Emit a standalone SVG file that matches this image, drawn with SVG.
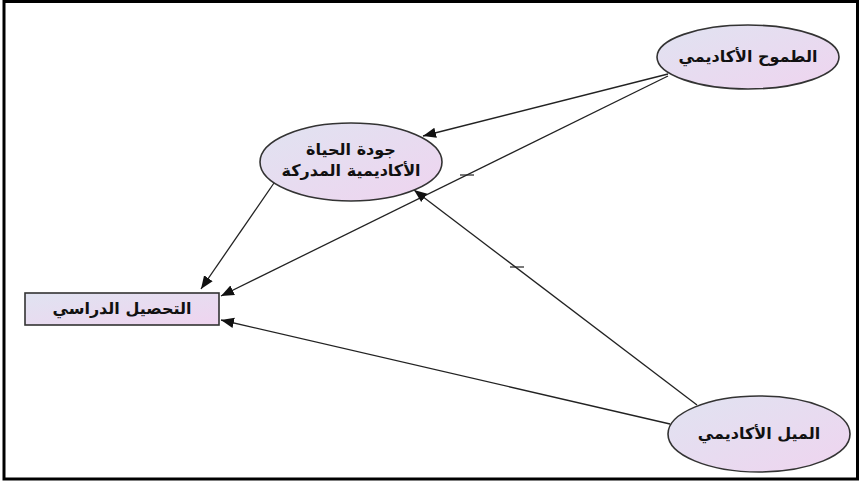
<svg xmlns="http://www.w3.org/2000/svg" width="859" height="483" viewBox="0 0 859 483">
<defs>
<linearGradient id="fill" x1="0" y1="0" x2="1" y2="1">
<stop offset="0" stop-color="#e0e3f1"/>
<stop offset="1" stop-color="#efd4ef"/>
</linearGradient>
<marker id="arr" viewBox="0 0 10 10" refX="10" refY="5" markerWidth="13" markerHeight="13" markerUnits="userSpaceOnUse" orient="auto">
<path d="M0,1 L10,5 L0,9 Z" fill="#111"/>
</marker>
<style>
.node{fill:url(#fill);stroke:#333;stroke-width:1.6}
.lbl{font-family:"DejaVu Sans",sans-serif;font-weight:bold;font-size:16px;fill:#111;text-anchor:middle;direction:rtl}
.edge{stroke:#222;stroke-width:1.3;fill:none;marker-end:url(#arr)}
.tick{stroke:#222;stroke-width:1.2}
</style>
</defs>
<rect x="4" y="1.5" width="853.5" height="477.5" fill="#fff" stroke="#000" stroke-width="3"/>
<g id="connectors">
<line class="edge" x1="668" y1="74" x2="423" y2="136"/>
<line class="edge" x1="668" y1="76" x2="221" y2="296"/>
<line class="edge" x1="274" y1="183" x2="201" y2="289"/>
<line class="edge" x1="697" y1="405" x2="414" y2="190"/>
<line class="edge" x1="670" y1="424" x2="221" y2="320"/>
<line class="tick" x1="460" y1="175" x2="474" y2="175"/>
<line class="tick" x1="510" y1="267" x2="524" y2="267"/>
</g>
<g id="node-ambition">
<ellipse class="node" cx="748" cy="57" rx="91" ry="32"/>
<text class="lbl" x="748" y="62">الطموح الأكاديمي</text>
</g>
<g id="node-quality">
<ellipse class="node" cx="351" cy="162" rx="91" ry="39"/>
<text class="lbl" x="351" y="155">جودة الحياة</text>
<text class="lbl" x="351" y="176">الأكاديمية المدركة</text>
</g>
<g id="node-achievement">
<rect class="node" x="25" y="293" width="194" height="32"/>
<text class="lbl" x="122" y="314">التحصيل الدراسي</text>
</g>
<g id="node-inclination">
<ellipse class="node" cx="759" cy="434" rx="91" ry="38"/>
<text class="lbl" x="759" y="439">الميل الأكاديمي</text>
</g>
</svg>
